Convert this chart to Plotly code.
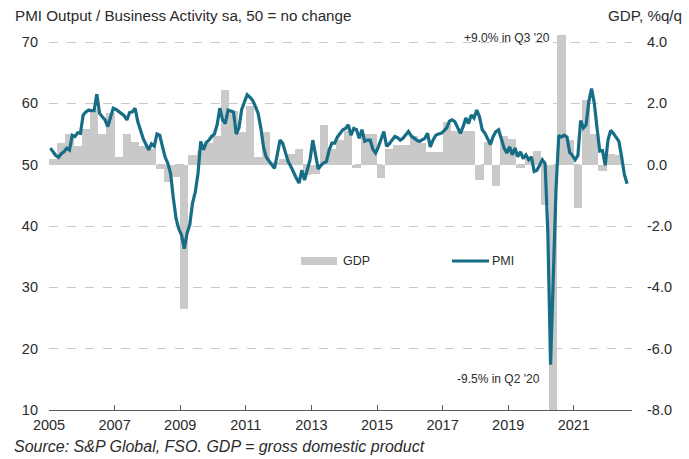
import plotly.graph_objects as go

# ---------------- data ----------------
pmi_start_year = 2005
pmi_values = [
    # 2005
    52.7, 52.0, 51.5, 51.2, 51.8, 52.1, 52.7, 52.4, 54.8, 54.6, 55.2, 55.1,
    # 2006
    58.1, 58.6, 58.9, 58.8, 58.8, 61.5, 58.4, 57.8, 57.3, 56.2, 57.8, 59.2,
    # 2007
    59.0, 58.7, 58.3, 58.0, 57.3, 58.5, 58.6, 59.2, 57.0, 55.4, 54.2, 53.3,
    # 2008
    52.4, 53.4, 53.0, 55.0, 54.8, 53.0, 51.2, 50.2, 48.5, 44.5, 41.2, 39.5,
    # 2009
    38.5, 36.3, 38.8, 40.2, 43.7, 45.5, 48.5, 53.8, 52.4, 53.6, 54.0, 54.6,
    # 2010
    55.0, 56.5, 59.2, 57.3, 56.7, 58.9, 58.8, 58.6, 55.0, 56.0, 59.0, 60.3,
    # 2011
    61.4, 61.0, 60.5, 59.5, 58.4, 56.0, 52.8, 51.2, 50.6, 50.0, 49.4, 51.6,
    # 2012
    54.0, 53.5, 51.8, 50.5, 49.7, 48.6, 47.8, 47.0, 49.1, 47.5, 49.0, 50.8,
    # 2013
    54.0, 51.5, 49.3, 49.9, 50.3, 50.5, 52.4, 53.5, 53.5, 54.5, 55.1, 55.7,
    # 2014
    55.9, 56.5, 54.8, 55.9, 55.7, 54.3, 55.7, 53.8, 54.0, 54.0, 52.5, 51.9,
    # 2015
    52.9, 54.0, 55.4, 53.0, 53.4, 54.0, 54.6, 54.4, 54.0, 54.3, 54.8, 55.4,
    # 2016
    54.7, 54.3, 54.0, 53.8, 54.0, 54.3, 55.1, 52.9, 54.0, 54.8, 55.0, 55.1,
    # 2017
    55.5, 56.0, 57.1, 57.3, 57.0, 55.9, 55.1, 56.2, 57.6, 56.7, 58.1, 57.6,
    # 2018
    58.9, 57.8, 55.7, 55.1, 54.3, 53.3, 54.6, 55.4, 55.7, 54.3, 52.7, 51.9,
    # 2019
    52.9, 51.6, 52.7, 51.3, 52.1, 51.0, 51.6, 50.8, 51.3, 48.9, 49.1, 49.9,
    # 2020
    50.8, 50.2, 39.0, 17.4, 31.0, 46.0, 54.8, 54.5, 54.8, 54.5, 52.0, 51.5,
    # 2021
    50.8, 51.5, 57.2, 56.0, 56.5, 60.3, 62.4, 60.0, 56.0, 52.2, 52.3, 49.9,
    # 2022
    54.0, 55.6, 55.1, 54.5, 53.8, 51.3, 48.4, 46.9,
]

gdp_start_year = 2005
gdp_values = [
    0.2, 0.7, 1.0, 0.6,      # 2005
    1.15, 1.8, 1.0, 1.7,     # 2006
    0.25, 1.0, 0.75, 0.6,    # 2007
    0.5, -0.15, -0.55, -0.4, # 2008
    -4.7, 0.3, 0.45, 0.7,    # 2009
    0.95, 2.45, 1.75, 1.05,  # 2010
    1.9, 0.25, 1.05, 0.1,    # 2011
    0.2, 0.35, 0.5, -0.35,   # 2012
    -0.3, 1.3, 0.5, 0.8,     # 2013
    1.1, -0.1, 1.0, 1.0,     # 2014
    -0.45, 0.5, 0.65, 0.65,  # 2015
    0.95, 0.7, 0.4, 0.4,     # 2016
    1.4, 1.1, 1.1, 1.1,      # 2017
    -0.5, 0.75, -0.7, 0.95,  # 2018
    0.85, -0.1, 0.2, 0.45,   # 2019
    -1.3, -9.5, 9.0, 0.8,    # 2020
    -1.4, 2.1, 1.0, -0.2,    # 2021
    0.35, 0.3,               # 2022
]

x_tick_years = [2005, 2007, 2009, 2011, 2013, 2015, 2017, 2019, 2021]
pmi_ticks = [10, 20, 30, 40, 50, 60, 70]
gdp_ticks = [-8, -6, -4, -2, 0, 2, 4]

title_left = "PMI Output / Business Activity sa, 50 = no change"
title_right = "GDP, %q/q"
source_text = "Source: S&P Global, FSO. GDP = gross domestic product"
note_high = "+9.0% in Q3 '20"
note_low = "-9.5% in Q2 '20"

# decimal-year positions (mid-month / mid-quarter)
pmi_x = [pmi_start_year + (i + 0.5) / 12 for i in range(len(pmi_values))]
gdp_x = [gdp_start_year + (i + 0.5) / 4 for i in range(len(gdp_values))]

# ---------------- styling ----------------
W, H = 689, 459
L, R, T, B = 49, 57, 35, 49
plot_w = W - L - R
plot_h = H - T - B
FONT = "Arial, Liberation Sans, sans-serif"
TXT = "#2b2b2b"
TEAL = "#176d86"
GREY = "#c9c9c9"

x_end = 2005 + plot_w / 32.8
pmi_top = 70 + 7 / (368 / 60)
gdp_top = 4 + 7 / (368 / 12)

def px(xpix):
    return (xpix - L) / plot_w

def py(ypix):
    return (H - B - ypix) / plot_h

fig = go.Figure()
fig.add_trace(go.Bar(
    x=gdp_x, y=gdp_values, width=0.25, marker=dict(color=GREY, line=dict(width=0)),
    name="GDP", yaxis="y", showlegend=False,
))
fig.add_trace(go.Scatter(
    x=pmi_x, y=pmi_values, mode="lines", line=dict(color=TEAL, width=3.2),
    name="PMI", yaxis="y2", showlegend=False,
))

fig.update_layout(
    width=W, height=H,
    margin=dict(l=L, r=R, t=T, b=B, pad=0),
    paper_bgcolor="white", plot_bgcolor="white",
    font=dict(family=FONT, size=14, color=TXT),
    bargap=0,
    xaxis=dict(
        range=[2005, x_end], tickmode="array", tickvals=x_tick_years,
        ticktext=[str(y) for y in x_tick_years],
        showgrid=False, zeroline=False, showline=True, linecolor="#595959", linewidth=1,
        ticks="inside", ticklen=5, tickcolor="#595959",
        tickfont=dict(size=14.5, color=TXT), ticklabelstandoff=2,
    ),
    yaxis=dict(
        side="right", range=[-8, gdp_top], tickmode="array", tickvals=gdp_ticks,
        ticktext=[f"{v:.1f}" for v in gdp_ticks],
        showgrid=True, gridcolor="#c8c8c8", griddash="dash", gridwidth=1,
        zeroline=False, showline=False, ticks="",
        tickfont=dict(size=14.5, color=TXT), ticklabelstandoff=14,
    ),
    yaxis2=dict(
        overlaying="y", side="left", range=[10, pmi_top], tickmode="array",
        tickvals=pmi_ticks, ticktext=[str(v) for v in pmi_ticks],
        showgrid=False, zeroline=False, showline=False, ticks="",
        tickfont=dict(size=14.5, color=TXT), ticklabelstandoff=10,
    ),
)

annotations = [
    dict(text=title_left, x=px(13), y=py(15), xanchor="left", yanchor="middle",
         font=dict(size=15.2, color=TXT)),
    dict(text=title_right, x=px(684), y=py(15), xanchor="right", yanchor="middle",
         font=dict(size=15.2, color=TXT)),
    dict(text=source_text, x=px(12), y=py(446), xanchor="left", yanchor="middle",
         font=dict(size=16, color=TXT, style="italic")),
    dict(text=note_high, x=px(552), y=py(38), xanchor="right", yanchor="middle",
         font=dict(size=12, color=TXT)),
    dict(text=note_low, x=px(542), y=py(379), xanchor="right", yanchor="middle",
         font=dict(size=12, color=TXT)),
    dict(text="GDP", x=px(341), y=py(261), xanchor="left", yanchor="middle",
         font=dict(size=12.5, color=TXT)),
    dict(text="PMI", x=px(490), y=py(261), xanchor="left", yanchor="middle",
         font=dict(size=12.5, color=TXT)),
]
for a in annotations:
    a.update(xref="paper", yref="paper", showarrow=False)
fig.update_layout(annotations=annotations)

fig.update_layout(shapes=[
    dict(type="rect", xref="paper", yref="paper", x0=px(301), x1=px(337),
         y0=py(265), y1=py(257), fillcolor=GREY, line=dict(width=0)),
    dict(type="line", xref="paper", yref="paper", x0=px(452), x1=px(489),
         y0=py(261), y1=py(261), line=dict(color=TEAL, width=3)),
])

fig.write_html("out.html")
